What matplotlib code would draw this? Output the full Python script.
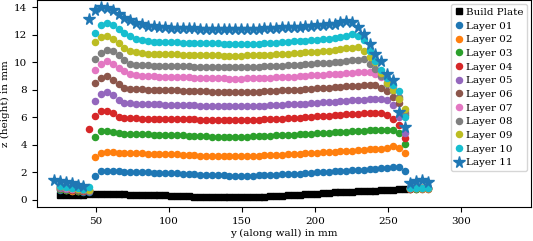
"""Layer height profiles along a printed wall, one marker series per layer."""

import matplotlib

matplotlib.use("Agg")
import matplotlib.pyplot as plt

N = None  # no measurement at this position

# positions along the wall (mm), shared by every series
Y_POS = [21.5, 25.5, 29.5, 33.5, 37.5, 41.5, 45.5,
         49.5, 53.5, 57.5, 61.5, 65.5, 69.5, 73.5, 77.5, 81.5, 85.5,
         89.5, 93.5, 97.5, 101.5, 105.5, 109.5, 113.5, 117.5, 121.5, 125.5,
         129.5, 133.5, 137.5, 141.5, 145.5, 149.5, 153.5, 157.5, 161.5, 165.5,
         169.5, 173.5, 177.5, 181.5, 185.5, 189.5, 193.5, 197.5, 201.5, 205.5,
         209.5, 213.5, 217.5, 221.5, 225.5, 229.5, 233.5, 237.5, 241.5, 245.5,
         249.5, 253.5, 257.5, 261.5,
         265.5, 269.5, 273.5, 277.5]

BUILD_PLATE = [N, 0.38, 0.38, 0.39, 0.39, 0.39, 0.40,
               0.40, 0.41, 0.41, 0.41, 0.40, 0.40, 0.39, 0.38, 0.37, 0.36,
               0.35, 0.34, 0.33, 0.31, 0.29, 0.28, 0.26, 0.24, 0.23, 0.21,
               0.20, 0.19, 0.18, 0.18, 0.18, 0.19, 0.20, 0.21, 0.23, 0.25,
               0.27, 0.29, 0.31, 0.33, 0.35, 0.38, 0.41, 0.44, 0.47, 0.50,
               0.53, 0.55, 0.57, 0.59, 0.60, 0.62, 0.64, 0.66, 0.68, 0.70,
               0.72, 0.74, 0.77, 0.80,
               N, N, N, N]

LAYER_01 = [N, 0.75, 0.70, 0.66, 0.62, 0.60, 0.60,
            1.72, 2.08, 2.12, 2.10, 2.07, 2.05, 2.04, 2.02, 2.01, 2.00,
            1.99, 1.98, 1.97, 1.95, 1.93, 1.90, 1.88, 1.86, 1.84, 1.82,
            1.80, 1.79, 1.78, 1.77, 1.77, 1.76, 1.76, 1.77, 1.78, 1.80,
            1.82, 1.84, 1.86, 1.88, 1.90, 1.92, 1.95, 1.98, 2.00, 2.03,
            2.06, 2.08, 2.10, 2.13, 2.16, 2.18, 2.21, 2.24, 2.27, 2.30,
            2.33, 2.40, 2.38, 2.12,
            0.80, 0.81, 0.82, 0.82]

LAYER_02 = [N, 0.78, 0.72, 0.68, 0.64, 0.62, 0.62,
            3.09, 3.45, 3.50, 3.46, 3.42, 3.41, 3.40, 3.39, 3.38, 3.37,
            3.36, 3.35, 3.34, 3.33, 3.31, 3.29, 3.27, 3.25, 3.23, 3.22,
            3.21, 3.20, 3.19, 3.19, 3.19, 3.19, 3.20, 3.21, 3.22, 3.24,
            3.26, 3.28, 3.30, 3.32, 3.35, 3.37, 3.40, 3.42, 3.44, 3.46,
            3.49, 3.51, 3.54, 3.56, 3.58, 3.61, 3.64, 3.67, 3.70, 3.74,
            3.78, 3.90, 3.80, 3.38,
            0.81, 0.82, 0.83, 0.83]

LAYER_03 = [N, 0.82, 0.76, 0.71, 0.67, 0.64, 0.64,
            4.59, 5.02, 5.03, 4.93, 4.85, 4.82, 4.80, 4.78, 4.77, 4.76,
            4.75, 4.74, 4.73, 4.72, 4.71, 4.69, 4.67, 4.65, 4.64, 4.62,
            4.61, 4.60, 4.59, 4.59, 4.59, 4.60, 4.61, 4.62, 4.63, 4.65,
            4.67, 4.69, 4.71, 4.73, 4.75, 4.77, 4.80, 4.82, 4.85, 4.88,
            4.90, 4.92, 4.94, 4.97, 4.99, 5.01, 5.03, 5.05, 5.07, 5.09,
            5.10, 5.12, 4.90, 4.10,
            0.82, 0.83, 0.84, 0.84]

LAYER_04 = [N, 0.86, 0.80, 0.75, 0.70, 0.67, 5.14,
            6.09, 6.47, 6.47, 6.30, 6.05, 5.98, 5.95, 5.93, 5.92, 5.92,
            5.91, 5.90, 5.90, 5.89, 5.88, 5.87, 5.86, 5.85, 5.84, 5.83,
            5.82, 5.81, 5.80, 5.80, 5.80, 5.80, 5.81, 5.82, 5.83, 5.85,
            5.87, 5.89, 5.91, 5.93, 5.95, 5.98, 6.01, 6.04, 6.07, 6.10,
            6.13, 6.16, 6.19, 6.22, 6.25, 6.27, 6.29, 6.31, 6.32, 6.33,
            6.16, 5.92, 5.43, 4.52,
            0.83, 0.84, 0.85, 0.85]

LAYER_05 = [N, 0.88, 0.82, 0.77, 0.72, 0.69, 0.68,
            7.20, 7.73, 7.83, 7.62, 7.28, 7.08, 7.02, 6.99, 6.97, 6.96,
            6.95, 6.94, 6.93, 6.92, 6.91, 6.90, 6.88, 6.87, 6.86, 6.85,
            6.84, 6.83, 6.82, 6.81, 6.81, 6.81, 6.82, 6.83, 6.84, 6.86,
            6.88, 6.90, 6.92, 6.94, 6.96, 6.98, 7.01, 7.04, 7.07, 7.10,
            7.12, 7.15, 7.18, 7.21, 7.24, 7.27, 7.30, 7.33, 7.36, 7.37,
            7.30, 6.88, 6.00, 4.90,
            0.84, 0.85, 0.86, 0.86]

LAYER_06 = [N, 0.92, 0.86, 0.80, 0.75, 0.72, 0.70,
            8.48, 8.89, 8.99, 8.75, 8.41, 8.17, 8.09, 8.05, 8.03, 8.02,
            8.01, 8.00, 7.99, 7.98, 7.97, 7.95, 7.93, 7.92, 7.90, 7.89,
            7.88, 7.87, 7.86, 7.85, 7.85, 7.85, 7.86, 7.87, 7.88, 7.90,
            7.92, 7.94, 7.96, 7.98, 8.00, 8.02, 8.05, 8.08, 8.11, 8.14,
            8.17, 8.20, 8.23, 8.26, 8.29, 8.32, 8.35, 8.37, 8.33, 8.15,
            7.90, 7.49, 7.08, 6.16,
            0.85, 0.86, 0.87, 0.87]

LAYER_07 = [N, 0.95, 0.89, 0.83, 0.78, 0.74, 0.72,
            9.42, 9.90, 10.07, 9.85, 9.58, 9.35, 9.13, 9.05, 9.01, 8.99,
            8.98, 8.97, 8.96, 8.95, 8.94, 8.92, 8.91, 8.89, 8.88, 8.86,
            8.85, 8.84, 8.83, 8.82, 8.82, 8.82, 8.83, 8.84, 8.85, 8.87,
            8.89, 8.91, 8.93, 8.95, 8.97, 8.99, 9.02, 9.05, 9.08, 9.11,
            9.13, 9.16, 9.19, 9.22, 9.25, 9.28, 9.30, 9.28, 9.15, 8.94,
            8.57, 8.20, 7.37, 6.50,
            0.85, 0.86, 0.87, 0.88]

LAYER_08 = [N, 0.97, 0.91, 0.85, 0.80, 0.76, 0.74,
            10.24, 10.68, 10.87, 10.82, 10.52, 10.14, 9.90, 9.82, 9.79, 9.78,
            9.77, 9.76, 9.75, 9.74, 9.73, 9.72, 9.71, 9.70, 9.69, 9.68,
            9.67, 9.66, 9.66, 9.66, 9.66, 9.66, 9.67, 9.68, 9.69, 9.71,
            9.73, 9.75, 9.77, 9.79, 9.81, 9.83, 9.86, 9.89, 9.92, 9.95,
            9.98, 10.02, 10.06, 10.10, 10.15, 10.20, 10.22, 9.90, 9.50, 9.00,
            8.40, 8.00, 7.50, 6.30,
            0.86, 0.87, 0.88, 0.88]

LAYER_09 = [N, 0.99, 0.93, 0.87, 0.82, 0.78, 0.76,
            11.47, 11.84, 11.91, 11.71, 11.40, 11.05, 10.85, 10.72, 10.66, 10.63,
            10.62, 10.61, 10.60, 10.59, 10.58, 10.57, 10.56, 10.55, 10.54, 10.53,
            10.52, 10.51, 10.50, 10.50, 10.50, 10.50, 10.51, 10.52, 10.53, 10.55,
            10.57, 10.59, 10.61, 10.64, 10.67, 10.70, 10.73, 10.76, 10.79, 10.82,
            10.86, 10.90, 10.95, 11.02, 11.08, 11.10, 10.85, 10.40, 10.00, 9.20,
            8.50, 7.97, 7.37, 6.60,
            0.86, 0.87, 0.88, 0.89]

LAYER_10 = [N, 1.00, 0.95, 0.90, 0.85, 0.82, 0.92,
            12.15, 12.75, 12.85, 12.72, 12.40, 12.15, 11.90, 11.72, 11.62, 11.55,
            11.50, 11.48, 11.47, 11.46, 11.45, 11.44, 11.43, 11.42, 11.41, 11.40,
            11.39, 11.38, 11.37, 11.36, 11.35, 11.35, 11.35, 11.36, 11.37, 11.39,
            11.41, 11.43, 11.46, 11.49, 11.52, 11.55, 11.58, 11.61, 11.64, 11.67,
            11.70, 11.75, 11.82, 11.92, 12.05, 11.90, 11.60, 10.85, 10.10, 9.45,
            8.90, 8.35, 7.92, 6.04,
            0.86, 0.87, 0.87, 0.88]

LAYER_11 = [1.45, 1.38, 1.30, 1.20, 1.12, 1.05, 13.17,
            13.82, 14.00, 13.93, 13.80, 13.50, 13.25, 13.05, 12.88, 12.76, 12.68,
            12.62, 12.58, 12.55, 12.52, 12.50, 12.49, 12.48, 12.47, 12.46, 12.45,
            12.44, 12.44, 12.43, 12.43, 12.43, 12.43, 12.44, 12.45, 12.46, 12.48,
            12.50, 12.52, 12.54, 12.56, 12.58, 12.60, 12.63, 12.66, 12.69, 12.72,
            12.76, 12.82, 12.90, 12.98, 12.95, 12.60, 12.07, 11.35, 10.60, 10.07,
            9.13, 8.70, 6.40, 5.30,
            1.25, 1.35, 1.45, 1.30]

LAYERS = [
    ("Layer 01", LAYER_01), ("Layer 02", LAYER_02), ("Layer 03", LAYER_03),
    ("Layer 04", LAYER_04), ("Layer 05", LAYER_05), ("Layer 06", LAYER_06),
    ("Layer 07", LAYER_07), ("Layer 08", LAYER_08), ("Layer 09", LAYER_09),
    ("Layer 10", LAYER_10),
]


def points(values):
    pairs = [(y, z) for y, z in zip(Y_POS, values) if z is not None]
    return [p[0] for p in pairs], [p[1] for p in pairs]


plt.rcParams["font.family"] = ["DejaVu Serif"]
plt.rcParams["font.size"] = 7.5

fig = plt.figure(figsize=(5.33, 2.41), dpi=100)
ax = fig.add_axes([0.069, 0.14, 0.927, 0.858])

ys, zs = points(BUILD_PLATE)
ax.plot(ys, zs, "s", color="black", ms=4.0, label="Build Plate")
for index, (name, values) in enumerate(LAYERS):
    ys, zs = points(values)
    ax.plot(ys, zs, "o", color=f"C{index}", ms=4.4, label=name)
ys, zs = points(LAYER_11)
ax.plot(ys, zs, "*", color="C0", ms=8.5, label="Layer 11")

ax.set_xlim(9.5, 348)
ax.set_ylim(-0.53, 14.5)
ax.set_xticks([50, 100, 150, 200, 250, 300])
ax.set_yticks([0, 2, 4, 6, 8, 10, 12, 14])
ax.set_xlabel("y (along wall) in mm", labelpad=2)
ax.set_ylabel("z (height) in mm", labelpad=3)
ax.legend(loc="upper right", handlelength=0.8, handletextpad=0.3,
          borderaxespad=0.35, labelspacing=0.42, borderpad=0.35)

fig.savefig("out.png", dpi=100)
